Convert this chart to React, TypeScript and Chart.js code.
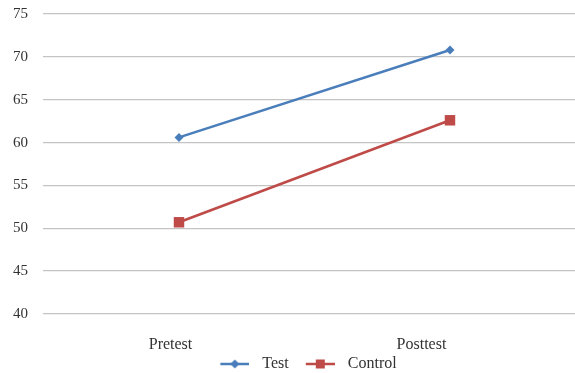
import React, { useEffect, useRef } from 'react';
import { Chart, registerables } from 'chart.js';

Chart.register(...registerables);

const categories = ['Pretest', 'Posttest'];
const seriesNames = ['Test', 'Control'];
const testValues = [60.6, 70.8];
const controlValues = [50.7, 62.6];
const yMin = 40;
const yMax = 75;
const yStep = 5;

const FONT = "'Liberation Serif', 'Times New Roman', serif";
const TEXT_COLOR = '#333333';
const TEST_COLOR = '#4A7EBB';
const CONTROL_COLOR = '#BE4B48';
const GRID_COLOR = '#c4c4c4';

function legendImage(color: string, kind: 'diamond' | 'square'): HTMLCanvasElement {
  const W = 39;
  const H = 14;
  const c = document.createElement('canvas');
  c.width = W;
  c.height = H;
  const ctx = c.getContext('2d')!;
  const y = H / 2;
  const a = 10;
  ctx.strokeStyle = color;
  ctx.lineWidth = 2.5;
  ctx.beginPath();
  ctx.moveTo(a, y);
  ctx.lineTo(a + 29, y);
  ctx.stroke();
  ctx.fillStyle = color;
  const cx = a + 14.5;
  if (kind === 'diamond') {
    ctx.beginPath();
    ctx.moveTo(cx - 4.5, y);
    ctx.lineTo(cx, y - 4.5);
    ctx.lineTo(cx + 4.5, y);
    ctx.lineTo(cx, y + 4.5);
    ctx.closePath();
    ctx.fill();
  } else {
    ctx.fillRect(cx - 4.5, y - 4.5, 9, 9);
  }
  return c;
}

export default function App() {
  const ref = useRef<HTMLCanvasElement | null>(null);

  useEffect(() => {
    if (!ref.current) return;
    const images = [legendImage(TEST_COLOR, 'diamond'), legendImage(CONTROL_COLOR, 'square')];
    const chart = new Chart(ref.current, {
      type: 'line',
      data: {
        datasets: [
          {
            label: seriesNames[0],
            data: categories.map((_, i) => ({ x: i, y: testValues[i] })),
            borderColor: TEST_COLOR,
            backgroundColor: TEST_COLOR,
            borderWidth: 2.5,
            pointStyle: 'rectRot',
            pointRadius: 4.5,
            pointBorderWidth: 0,
            pointBackgroundColor: TEST_COLOR,
            xAxisID: 'xd',
            yAxisID: 'y',
          },
          {
            label: seriesNames[1],
            data: categories.map((_, i) => ({ x: i, y: controlValues[i] })),
            borderColor: CONTROL_COLOR,
            backgroundColor: CONTROL_COLOR,
            borderWidth: 2.5,
            pointStyle: 'rect',
            pointRadius: 7.4,
            pointBorderWidth: 0,
            pointBackgroundColor: CONTROL_COLOR,
            xAxisID: 'xd',
            yAxisID: 'y',
          },
        ],
      },
      options: {
        responsive: false,
        animation: false,
        layout: { autoPadding: false, padding: { left: 27, right: 0, top: 14, bottom: 0 } },
        scales: {
          xd: {
            type: 'linear',
            axis: 'x',
            position: 'bottom',
            display: false,
            min: -0.5018,
            max: 1.4613,
          },
          x: {
            type: 'linear',
            axis: 'x',
            position: 'bottom',
            min: -0.508,
            max: 1.6116,
            grid: { display: false, drawTicks: false },
            border: { display: false },
            afterBuildTicks: (scale: any) => {
              scale.ticks = categories.map((_, i) => ({ value: i }));
            },
            afterFit: (scale: any) => {
              scale.height = 40;
              scale.paddingLeft = 0;
              scale.paddingRight = 0;
            },
            ticks: {
              autoSkip: false,
              maxRotation: 0,
              padding: 21.4,
              color: TEXT_COLOR,
              font: { family: FONT, size: 16 },
              callback: (v: any) => categories[Math.round(Number(v))],
            },
          },
          y: {
            type: 'linear',
            min: yMin,
            max: yMax,
            afterFit: (scale: any) => {
              scale.width = 16;
              scale.paddingTop = 0;
              scale.paddingBottom = 0;
            },
            grid: { color: GRID_COLOR, lineWidth: 1.3, drawTicks: false },
            border: { display: false },
            ticks: {
              stepSize: yStep,
              mirror: true,
              crossAlign: 'near',
              padding: -30,
              color: TEXT_COLOR,
              font: { family: FONT, size: 15 },
            },
          },
        },
        plugins: {
          tooltip: { enabled: false },
          legend: {
            position: 'bottom',
            maxHeight: 19,
            labels: {
              usePointStyle: true,
              pointStyleWidth: 49,
              padding: 2,
              color: TEXT_COLOR,
              font: { family: FONT, size: 16 },
              generateLabels: (ch: any) => {
                const items = (Chart.defaults.plugins.legend.labels as any).generateLabels(ch);
                return items.map((it: any, i: number) => ({ ...it, pointStyle: images[i] }));
              },
            },
          },
        },
      } as any,
    });
    return () => chart.destroy();
  }, []);

  return (
    <div style={{ position: 'fixed', left: 0, top: 0, width: 575, height: 373, background: '#fff' }}>
      <canvas ref={ref} width={575} height={373} style={{ width: 575, height: 373, display: 'block' }} />
    </div>
  );
}
